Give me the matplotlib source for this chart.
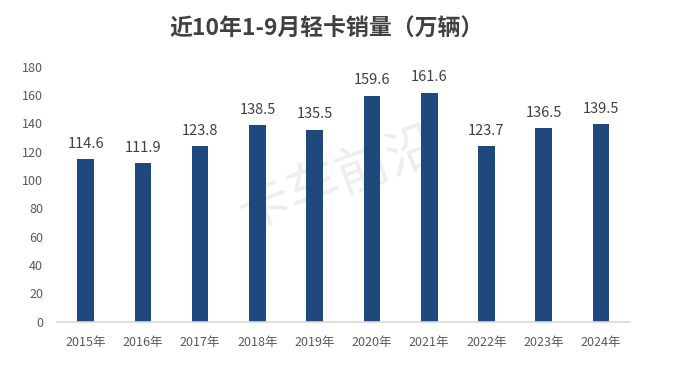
import matplotlib
matplotlib.use("Agg")
import matplotlib.pyplot as plt

plt.rcParams['font.family'] = ['Noto Sans CJK SC', 'DejaVu Sans']

years = ["2015年", "2016年", "2017年", "2018年", "2019年", "2020年", "2021年", "2022年", "2023年", "2024年"]
sales = [114.6, 111.9, 123.8, 138.5, 135.5, 159.6, 161.6, 123.7, 136.5, 139.5]
yticks = [0, 20, 40, 60, 80, 100, 120, 140, 160, 180]

fig = plt.figure(figsize=(6.85, 3.83), dpi=100)
ax = fig.add_axes([0.0832, 0.160, 0.836, 0.666])

ax.text(0.495, 0.535, "卡车前沿", fontsize=38, color="#EEEEEE", rotation=20,
        ha="center", va="center", zorder=0, transform=fig.transFigure)

x = range(len(years))
ax.bar(x, sales, width=0.29, color="#1F497D", zorder=2)
for xi, v in zip(x, sales):
    ax.text(xi, v + 6, f"{v:.1f}", ha="center", va="bottom", fontsize=10.5,
            color="#404040", zorder=3)

ax.set_xlim(-0.5, len(years) - 0.5)
ax.set_ylim(0, 180)
ax.set_yticks(yticks)
ax.set_xticks(list(x))
ax.set_xticklabels(years)
ax.tick_params(axis="both", length=0, labelsize=9, colors="#595959")
ax.tick_params(axis="y", pad=10)
ax.tick_params(axis="x", pad=10)
for s in ["top", "right", "left"]:
    ax.spines[s].set_visible(False)
ax.spines["bottom"].set_color("#D9D9D9")
ax.spines["bottom"].set_linewidth(1.2)
ax.patch.set_alpha(0)

fig.text(0.476, 0.925, "近10年1-9月轻卡销量（万辆）", fontsize=16.5, fontweight="bold",
         color="#404040", ha="center", va="center")

fig.savefig("out.png", dpi=100)
